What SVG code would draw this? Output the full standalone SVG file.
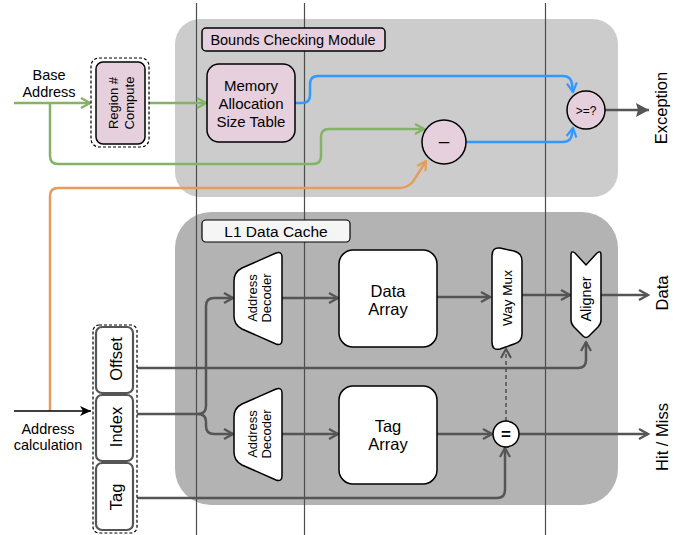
<svg xmlns="http://www.w3.org/2000/svg" width="688" height="535" viewBox="0 0 688 535">
<style>
text{font-family:"Liberation Sans",Arial,Helvetica,sans-serif;fill:#000;}
.c{text-anchor:middle;}
.pink{fill:#e6d0de;stroke:#000;stroke-width:1.5;}
.wht{fill:#fff;stroke:#000;stroke-width:1.5;}
.fld{fill:#fff;stroke:#555;stroke-width:2.2;}
.dash{fill:#fff;stroke:#000;stroke-width:1.2;stroke-dasharray:3 2;}
.stage{stroke:#4d4d4d;stroke-width:1.2;}
.g{fill:none;stroke:#82b366;stroke-width:2.5;marker-end:url(#ag);}
.b{fill:none;stroke:#3399ff;stroke-width:2.5;marker-end:url(#ab);}
.o{fill:none;stroke:#e59d5c;stroke-width:2.5;marker-end:url(#ao);}
.k{fill:none;stroke:#555;stroke-width:2.5;marker-end:url(#ak);}
</style>
<defs>
<marker id="ag" markerUnits="userSpaceOnUse" markerWidth="12" markerHeight="12" viewBox="0 0 12 12" refX="10.5" refY="6" orient="auto"><path d="M1.5,1 L10.5,6 L1.5,11" fill="none" stroke="#82b366" stroke-width="2.2"/></marker>
<marker id="ab" markerUnits="userSpaceOnUse" markerWidth="12" markerHeight="12" viewBox="0 0 12 12" refX="10.5" refY="6" orient="auto"><path d="M1.5,1 L10.5,6 L1.5,11" fill="none" stroke="#3399ff" stroke-width="2.2"/></marker>
<marker id="ao" markerUnits="userSpaceOnUse" markerWidth="12" markerHeight="12" viewBox="0 0 12 12" refX="10.5" refY="6" orient="auto"><path d="M1.5,1 L10.5,6 L1.5,11" fill="none" stroke="#e59d5c" stroke-width="2.2"/></marker>
<marker id="ak" markerUnits="userSpaceOnUse" markerWidth="12" markerHeight="12" viewBox="0 0 12 12" refX="10.5" refY="6" orient="auto"><path d="M1.5,1 L10.5,6 L1.5,11" fill="none" stroke="#555" stroke-width="2.2"/></marker>
<marker id="akb" markerUnits="userSpaceOnUse" markerWidth="14" markerHeight="16" viewBox="0 0 14 16" refX="13" refY="8" orient="auto"><path d="M0,1 L13,8 L0,15 L2,8 Z" fill="#555"/></marker>
<marker id="abl" markerUnits="userSpaceOnUse" markerWidth="12" markerHeight="12" viewBox="0 0 12 12" refX="11" refY="6" orient="auto"><path d="M0,1 L11,6 L0,11 L3,6 Z" fill="#000"/></marker>
</defs>

<g id="bounds-module">
<rect x="175" y="19" width="443" height="178" rx="25" fill="#cccccc"/>
</g>
<g id="l1-cache">
<rect x="175" y="212" width="443" height="293" rx="36" fill="#b3b3b3"/>
</g>

<g id="stage-lines">
<line class="stage" x1="196.5" y1="3" x2="196.5" y2="535"/>
<line class="stage" x1="304.5" y1="3" x2="304.5" y2="535"/>
<line class="stage" x1="545.5" y1="3" x2="545.5" y2="535"/>
</g>

<g id="bounds-label">
<rect x="202" y="28" width="183" height="23" rx="4" class="pink" stroke-width="1.2"/>
<text class="c" x="293" y="44.5" font-size="14.5">Bounds Checking Module</text>
</g>
<g id="l1-label">
<rect x="202" y="220" width="148" height="22" rx="4" fill="#f5f5f5" stroke="#000" stroke-width="1.2"/>
<text class="c" x="276" y="236.5" font-size="15.5">L1 Data Cache</text>
</g>

<g id="connectors">
<path class="g" d="M14,103 L90,103"/>
<path class="g" d="M149,103 L206,103"/>
<path class="g" d="M50,103 L50,156 Q50,164 58,164 L313,164 Q321,164 321,156 L321,137 Q321,129 329,129 L424,129"/>
<path class="b" d="M295,103 L302,103 Q310,103 310,95 L310,84 Q310,76 318,76 L563,76 Q571,76 572,84 L573,92"/>
<path class="b" d="M466,142 L563,142 Q571,142 572,134 L573,128"/>
<path class="o" d="M50,411 L50,196 Q50,188 58,188 L400,188 Q410,188 416,177 L426,161"/>
<path d="M605,110 L649,110" fill="none" stroke="#555" stroke-width="2.5" marker-end="url(#akb)"/>
<path d="M14,411 L91,411" fill="none" stroke="#000" stroke-width="1.5" marker-end="url(#abl)"/>
<path class="k" d="M282,298 L338,298"/>
<path class="k" d="M282,434 L338,434"/>
<path class="k" d="M437,297 L490,297"/>
<path class="k" d="M522,295 L570,295"/>
<path class="k" d="M600,295 L648,295"/>
<path class="k" d="M437,434 L492,434"/>
<path class="k" d="M519,434 L648,434"/>
<path d="M506,421 L506,349" fill="none" stroke="#555" stroke-width="1.6" stroke-dasharray="4 3" marker-end="url(#ak)"/>
<path class="k" d="M133,368 L578,368 Q586,368 586,360 L586,342"/>
<path class="k" d="M133,414 L198,414 Q206,414 206,406 L206,306 Q206,298 214,298 L233,298"/>
<path class="k" d="M198,414 Q206,414 206,422 L206,426 Q206,434 214,434 L233,434"/>
<path class="k" d="M133,498 L497,498 Q505,498 505,490 L505,448"/>
</g>

<g id="base-address">
<text class="c" x="49" y="80" font-size="14.5">Base</text>
<text class="c" x="49" y="97" font-size="14.5">Address</text>
</g>

<g id="region-compute">
<rect x="91" y="58" width="58" height="89" rx="8" class="dash"/>
<rect x="96" y="62" width="49" height="82" rx="7" class="pink"/>
<text class="c" transform="translate(117.5,103) rotate(-90)" font-size="13">Region #</text>
<text class="c" transform="translate(133.5,103) rotate(-90)" font-size="13">Compute</text>
</g>

<g id="mast">
<rect x="207" y="64" width="88" height="78" rx="12" class="pink"/>
<text class="c" x="251" y="91" font-size="15">Memory</text>
<text class="c" x="251" y="109" font-size="15">Allocation</text>
<text class="c" x="251" y="127" font-size="15">Size Table</text>
</g>

<g id="subtract">
<circle cx="444" cy="142" r="22" class="pink"/>
<text class="c" x="444" y="147" font-size="19">–</text>
</g>

<g id="compare">
<circle cx="586" cy="110" r="19" class="pink"/>
<text class="c" x="586" y="115" font-size="12">&gt;=?</text>
</g>

<g id="exception">
<text class="c" transform="translate(667,108) rotate(-90)" font-size="16.5">Exception</text>
</g>

<g id="decoder-data">
<path class="wht" d="M242,268 L276,253 Q282,251 282,257 L282,340 Q282,346 276,344 L242,329 Q234,325 234,316 L234,281 Q234,272 242,268 Z"/>
<text class="c" transform="translate(256.5,298) rotate(-90)" font-size="13">Address</text>
<text class="c" transform="translate(270.5,298) rotate(-90)" font-size="13">Decoder</text>
</g>

<g id="decoder-tag">
<path class="wht" d="M242,404 L276,389 Q282,387 282,393 L282,476 Q282,482 276,480 L242,465 Q234,461 234,452 L234,417 Q234,408 242,404 Z"/>
<text class="c" transform="translate(256.5,434) rotate(-90)" font-size="13">Address</text>
<text class="c" transform="translate(270.5,434) rotate(-90)" font-size="13">Decoder</text>
</g>

<g id="data-array">
<rect x="339" y="250" width="98" height="97" rx="14" class="wht"/>
<text class="c" x="388" y="297" font-size="16.5">Data</text>
<text class="c" x="388" y="315" font-size="16.5">Array</text>
</g>

<g id="tag-array">
<rect x="339" y="386" width="98" height="98" rx="14" class="wht"/>
<text class="c" x="388" y="432" font-size="16.5">Tag</text>
<text class="c" x="388" y="450" font-size="16.5">Array</text>
</g>

<g id="way-mux">
<path class="wht" d="M500,248 L514,251 Q522,253 522,261 L522,334 Q522,342 514,344 L500,349 Q492,351 492,342 L492,256 Q492,247 500,248 Z"/>
<text class="c" transform="translate(512,298) rotate(-90)" font-size="13.5">Way Mux</text>
</g>

<g id="aligner">
<path class="wht" d="M571,255 Q571,250 575,253 L586,265 L597,253 Q601,250 601,255 L601,320 Q601,324 598,327 L589,336 Q586,339 583,336 L574,327 Q571,324 571,320 Z"/>
<text class="c" transform="translate(591,299) rotate(-90)" font-size="14.5">Aligner</text>
</g>

<g id="tag-compare">
<circle cx="506" cy="434" r="13" class="wht"/>
<text class="c" x="506" y="440" font-size="17" font-weight="bold">=</text>
</g>

<g id="data-out">
<text class="c" transform="translate(668,293) rotate(-90)" font-size="16.5">Data</text>
</g>
<g id="hit-miss">
<text class="c" transform="translate(668,437) rotate(-90)" font-size="16.5">Hit / Miss</text>
</g>

<g id="address-fields">
<rect x="93" y="325" width="44" height="208" rx="6" class="dash"/>
<rect x="96" y="327" width="37" height="66" rx="6" class="fld"/>
<rect x="96" y="395" width="37" height="66" rx="6" class="fld"/>
<rect x="96" y="463" width="37" height="67" rx="6" class="fld"/>
<text class="c" transform="translate(122,359) rotate(-90)" font-size="16.5">Offset</text>
<text class="c" transform="translate(122,427) rotate(-90)" font-size="16.5">Index</text>
<text class="c" transform="translate(122,497) rotate(-90)" font-size="16.5">Tag</text>
</g>

<g id="address-calc">
<text class="c" x="48" y="434" font-size="14.5">Address</text>
<text class="c" x="48" y="450" font-size="14.5">calculation</text>
</g>
</svg>
